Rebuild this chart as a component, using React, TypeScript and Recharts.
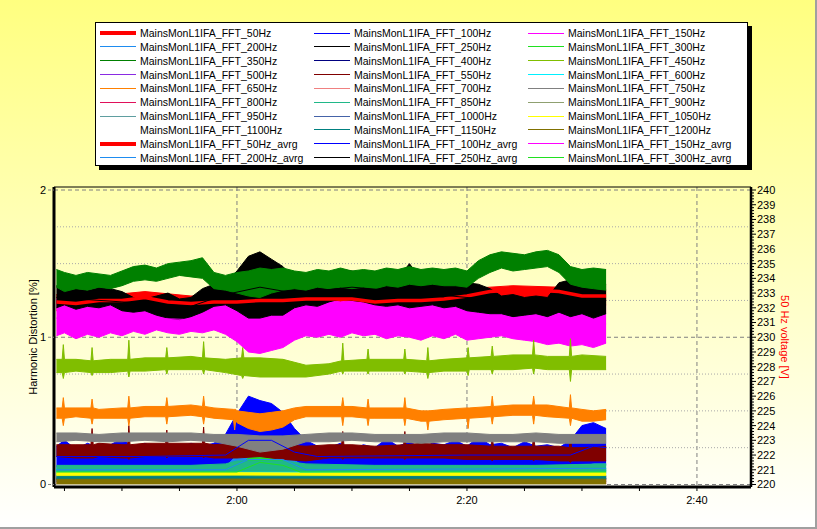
import React from "react";
import { ComposedChart, Area, Line, XAxis, YAxis, CartesianGrid } from "recharts";

// [minutes since 0:00, low, high] - band of each FFT trace
type Row = [number, number, number];
type Pt = [number, number];

// 50 Hz voltage [V] (right axis)
const fft50: Row[] = [
  [104.3, 231.8, 232.9], [108, 231.9, 232.8], [112, 232.0, 233.1], [116, 231.8, 232.8],
  [120, 231.9, 232.9], [124, 232.0, 233.0], [128, 232.1, 233.0], [132, 231.9, 232.9],
  [136, 232.0, 233.0], [140, 232.3, 233.3], [144, 232.6, 233.5], [148, 232.5, 233.4], [152.1, 232.2, 233.2],
];

const fft100: Row[] = [
  [104.3, 0.12, 0.26], [105, 0.13, 0.3], [106, 0.12, 0.24], [107, 0.12, 0.28], [108, 0.13, 0.25],
  [109, 0.12, 0.27], [110, 0.12, 0.31], [111, 0.12, 0.25], [112, 0.13, 0.28], [113, 0.12, 0.24],
  [114, 0.13, 0.27], [115, 0.12, 0.25], [116, 0.12, 0.28], [117, 0.13, 0.26], [118, 0.12, 0.28],
  [119, 0.13, 0.34], [120, 0.14, 0.48], [121, 0.15, 0.6], [122, 0.16, 0.57], [123, 0.15, 0.55],
  [124, 0.14, 0.49], [125, 0.13, 0.38], [126, 0.12, 0.3], [127, 0.12, 0.26], [128, 0.13, 0.25],
  [129, 0.12, 0.28], [130, 0.12, 0.24], [131, 0.13, 0.27], [132, 0.12, 0.25], [133, 0.13, 0.31],
  [134, 0.12, 0.26], [135, 0.12, 0.29], [136, 0.13, 0.25], [137, 0.12, 0.28], [138, 0.12, 0.27],
  [139, 0.13, 0.3], [140, 0.12, 0.26], [141, 0.12, 0.32], [142, 0.13, 0.27], [143, 0.12, 0.28],
  [144, 0.12, 0.25], [145, 0.13, 0.29], [146, 0.12, 0.26], [147, 0.12, 0.27], [148, 0.13, 0.25],
  [149, 0.13, 0.3], [150, 0.14, 0.4], [151, 0.14, 0.42], [152.1, 0.13, 0.38],
];

const fft150: Row[] = [
  [104.3, 1.01, 1.26], [105, 1.03, 1.24], [106, 0.99, 1.25], [107, 1.02, 1.23], [108, 1.0, 1.26],
  [109, 1.03, 1.24], [110, 1.01, 1.22], [111, 1.04, 1.23], [112, 1.02, 1.25], [113, 1.05, 1.22],
  [114, 1.03, 1.24], [115, 1.02, 1.21], [116, 1.04, 1.23], [117, 1.03, 1.24], [118, 1.05, 1.23],
  [119, 1.02, 1.24], [120, 0.97, 1.24], [121, 0.9, 1.23], [122, 0.89, 1.22], [123, 0.91, 1.24],
  [124, 0.93, 1.23], [125, 0.98, 1.25], [126, 1.01, 1.24], [127, 1.0, 1.26], [128, 1.02, 1.25],
  [129, 1.0, 1.24], [130, 1.03, 1.25], [131, 1.01, 1.26], [132, 1.02, 1.27], [133, 0.99, 1.26],
  [134, 1.01, 1.25], [135, 1.0, 1.27], [136, 0.98, 1.25], [137, 1.01, 1.24], [138, 0.99, 1.26],
  [139, 1.02, 1.25], [140, 0.98, 1.24], [141, 0.99, 1.23], [142, 1.0, 1.25], [143, 1.01, 1.22],
  [144, 0.99, 1.24], [145, 0.98, 1.23], [146, 0.97, 1.24], [147, 0.95, 1.25], [148, 0.96, 1.23],
  [149, 0.94, 1.24], [150, 0.95, 1.22], [151, 0.93, 1.23], [152.1, 0.96, 1.22],
];

const fft200: Row[] = [
  [104.3, 0.08, 0.12], [119, 0.08, 0.12], [120, 0.12, 0.2], [122, 0.13, 0.23], [124, 0.13, 0.21],
  [125.5, 0.09, 0.14], [127, 0.08, 0.12], [150, 0.08, 0.12], [151, 0.09, 0.14], [152.1, 0.09, 0.14],
];

const fft250: Row[] = [
  [104.3, 1.2, 1.35], [105, 1.22, 1.34], [106, 1.19, 1.33], [107, 1.21, 1.32], [108, 1.2, 1.34],
  [109, 1.22, 1.33], [110, 1.18, 1.31], [111, 1.17, 1.27], [112, 1.18, 1.26], [113, 1.15, 1.28],
  [114, 1.13, 1.3], [115, 1.12, 1.26], [116, 1.14, 1.27], [117, 1.17, 1.33], [118, 1.21, 1.36],
  [119, 1.22, 1.37], [120, 1.18, 1.45], [121, 1.13, 1.55], [122, 1.13, 1.58], [123, 1.15, 1.53],
  [124, 1.15, 1.48], [125, 1.2, 1.4], [126, 1.22, 1.4], [127, 1.21, 1.42], [128, 1.24, 1.44],
  [129, 1.26, 1.46], [130, 1.25, 1.45], [131, 1.24, 1.43], [132, 1.22, 1.4], [133, 1.21, 1.39],
  [134, 1.22, 1.4], [135, 1.2, 1.5], [136, 1.21, 1.39], [137, 1.22, 1.4], [138, 1.2, 1.38],
  [139, 1.21, 1.39], [140, 1.18, 1.37], [141, 1.17, 1.36], [142, 1.16, 1.33], [143, 1.16, 1.28],
  [144, 1.14, 1.29], [145, 1.15, 1.27], [146, 1.16, 1.28], [147, 1.14, 1.27], [148, 1.17, 1.37],
  [149, 1.14, 1.39], [150, 1.16, 1.4], [151, 1.13, 1.38], [152.1, 1.16, 1.36],
];

const fft300: Row[] = [
  [104.3, 0.07, 0.1], [120, 0.07, 0.1], [121, 0.12, 0.18], [123, 0.12, 0.19], [124, 0.11, 0.16],
  [125, 0.07, 0.1], [152.1, 0.07, 0.1],
];

const fft350: Row[] = [
  [104.3, 1.34, 1.46], [105, 1.31, 1.44], [106, 1.33, 1.42], [107, 1.32, 1.44], [108, 1.34, 1.43],
  [109, 1.33, 1.42], [110, 1.35, 1.45], [111, 1.38, 1.48], [112, 1.39, 1.49], [113, 1.38, 1.47],
  [114, 1.4, 1.5], [115, 1.42, 1.51], [116, 1.41, 1.52], [117, 1.4, 1.54], [118, 1.33, 1.44],
  [119, 1.32, 1.42], [120, 1.3, 1.44], [121, 1.28, 1.45], [122, 1.27, 1.47], [123, 1.3, 1.46],
  [124, 1.32, 1.47], [125, 1.33, 1.45], [126, 1.32, 1.44], [127, 1.34, 1.46], [128, 1.33, 1.45],
  [129, 1.34, 1.47], [130, 1.33, 1.45], [131, 1.34, 1.46], [132, 1.33, 1.45], [133, 1.35, 1.47],
  [134, 1.34, 1.46], [135, 1.36, 1.48], [136, 1.35, 1.46], [137, 1.36, 1.47], [138, 1.35, 1.46],
  [139, 1.35, 1.47], [140, 1.34, 1.45], [141, 1.4, 1.52], [142, 1.44, 1.56], [143, 1.47, 1.58],
  [144, 1.45, 1.57], [145, 1.46, 1.56], [146, 1.47, 1.58], [147, 1.48, 1.59], [148, 1.44, 1.56],
  [149, 1.36, 1.48], [150, 1.34, 1.46], [151, 1.33, 1.47], [152.1, 1.32, 1.46],
];

const fft400: Row[] = [[104.3, 0.04, 0.06], [152.1, 0.04, 0.06]];

const fft450: Row[] = [
  [104.3, 0.76, 0.85], [104.8, 0.76, 0.85], [104.9, 0.72, 0.95], [105, 0.76, 0.85], [106, 0.77, 0.85],
  [107.3, 0.76, 0.84], [107.4, 0.74, 0.93], [107.5, 0.76, 0.84], [109, 0.76, 0.85], [110.5, 0.77, 0.85],
  [110.6, 0.73, 0.98], [110.7, 0.77, 0.85], [112, 0.77, 0.86], [113.8, 0.78, 0.86], [113.9, 0.75, 0.93],
  [114, 0.78, 0.86], [116, 0.78, 0.87], [117, 0.78, 0.86], [117.1, 0.75, 0.97], [117.2, 0.78, 0.86],
  [119, 0.76, 0.85], [120.4, 0.74, 0.86], [120.5, 0.72, 0.93], [120.6, 0.74, 0.86], [122, 0.73, 0.86],
  [124, 0.73, 0.85], [126, 0.73, 0.81], [128, 0.75, 0.82], [129.1, 0.77, 0.84], [129.2, 0.75, 0.96],
  [129.3, 0.77, 0.84], [131.3, 0.77, 0.85], [131.4, 0.75, 0.92], [131.5, 0.77, 0.85], [134.5, 0.77, 0.85],
  [134.6, 0.75, 0.92], [134.7, 0.77, 0.85], [136.5, 0.76, 0.84], [136.6, 0.72, 0.93], [136.7, 0.76, 0.84],
  [138, 0.77, 0.85], [140, 0.77, 0.86], [140.1, 0.74, 0.93], [140.2, 0.78, 0.86], [142.1, 0.78, 0.87],
  [142.2, 0.75, 0.94], [142.3, 0.78, 0.87], [144, 0.78, 0.88], [145.7, 0.79, 0.88], [145.8, 0.75, 0.98],
  [145.9, 0.79, 0.88], [147, 0.78, 0.87], [148.9, 0.78, 0.87], [149, 0.7, 0.99], [149.1, 0.78, 0.87],
  [150, 0.78, 0.88], [152.1, 0.78, 0.87],
];

const fft500: Row[] = [[104.3, 0.03, 0.05], [152.1, 0.03, 0.05]];

const fft550: Row[] = [
  [104.3, 0.19, 0.27], [106, 0.18, 0.27], [107.3, 0.18, 0.27], [107.4, 0.18, 0.38], [107.5, 0.18, 0.27],
  [108, 0.19, 0.28], [110, 0.18, 0.27], [110.5, 0.18, 0.27], [110.6, 0.17, 0.4], [110.7, 0.18, 0.27],
  [112, 0.19, 0.28], [113.8, 0.19, 0.28], [113.9, 0.18, 0.37], [114, 0.19, 0.28], [116, 0.19, 0.28],
  [117, 0.19, 0.28], [117.1, 0.18, 0.39], [117.2, 0.19, 0.28], [118, 0.18, 0.27], [120, 0.18, 0.28],
  [122, 0.19, 0.29], [124, 0.17, 0.27], [126, 0.16, 0.26], [128, 0.18, 0.27], [129.1, 0.18, 0.27],
  [129.2, 0.17, 0.36], [129.3, 0.18, 0.27], [130, 0.18, 0.27], [132, 0.18, 0.26], [134.5, 0.18, 0.27],
  [134.6, 0.17, 0.36], [134.7, 0.18, 0.27], [136, 0.18, 0.28], [138, 0.18, 0.27], [140, 0.17, 0.27],
  [142.1, 0.17, 0.26], [142.2, 0.16, 0.33], [142.3, 0.17, 0.26], [144, 0.17, 0.26], [145.7, 0.17, 0.26],
  [145.8, 0.16, 0.34], [145.9, 0.17, 0.26], [148, 0.16, 0.26], [148.9, 0.16, 0.25], [149, 0.15, 0.33],
  [149.1, 0.16, 0.25], [150, 0.16, 0.25], [152.1, 0.16, 0.26],
];

const fft600: Row[] = [[104.3, 0.08, 0.11], [120, 0.08, 0.12], [125, 0.08, 0.11], [152.1, 0.08, 0.11]];

const fft650: Row[] = [
  [104.3, 0.45, 0.52], [104.8, 0.45, 0.52], [104.9, 0.4, 0.59], [105, 0.45, 0.52], [106, 0.46, 0.52],
  [107.3, 0.45, 0.52], [107.4, 0.41, 0.58], [107.5, 0.45, 0.52], [108, 0.45, 0.51], [110, 0.45, 0.52],
  [110.5, 0.45, 0.52], [110.6, 0.4, 0.6], [110.7, 0.45, 0.52], [112, 0.46, 0.53], [113.8, 0.46, 0.53],
  [113.9, 0.41, 0.59], [114, 0.46, 0.53], [116, 0.47, 0.54], [117, 0.46, 0.53], [117.1, 0.41, 0.6],
  [117.2, 0.46, 0.53], [118, 0.45, 0.52], [119.7, 0.44, 0.51], [119.8, 0.37, 0.51], [119.9, 0.44, 0.51],
  [120, 0.42, 0.5], [121, 0.38, 0.49], [122, 0.36, 0.48], [123, 0.37, 0.49], [124, 0.39, 0.5],
  [125, 0.44, 0.52], [126, 0.46, 0.53], [128, 0.46, 0.53], [129.1, 0.46, 0.53], [129.2, 0.4, 0.59],
  [129.3, 0.46, 0.53], [130, 0.46, 0.53], [131.3, 0.45, 0.52], [131.4, 0.4, 0.58], [131.5, 0.45, 0.52],
  [132, 0.45, 0.52], [134, 0.45, 0.52], [134.5, 0.45, 0.52], [134.6, 0.4, 0.59], [134.7, 0.45, 0.52],
  [136, 0.43, 0.5], [136.5, 0.43, 0.5], [136.6, 0.37, 0.5], [136.7, 0.43, 0.5], [138, 0.44, 0.51],
  [140, 0.45, 0.52], [140.1, 0.38, 0.52], [140.2, 0.45, 0.52], [142.1, 0.46, 0.53], [142.2, 0.41, 0.6],
  [142.3, 0.46, 0.53], [144, 0.47, 0.54], [145.7, 0.47, 0.54], [145.8, 0.41, 0.6], [145.9, 0.47, 0.54],
  [147, 0.46, 0.54], [148.9, 0.45, 0.52], [149, 0.4, 0.61], [149.1, 0.45, 0.52], [150, 0.43, 0.51],
  [151, 0.43, 0.5], [152.1, 0.44, 0.51],
];

const fft700: Row[] = [[104.3, 0.01, 0.03], [152.1, 0.01, 0.03]];

const fft750: Row[] = [
  [104.3, 0.29, 0.35], [106, 0.3, 0.35], [108, 0.29, 0.34], [110, 0.29, 0.35], [112, 0.3, 0.35],
  [114, 0.29, 0.35], [116, 0.3, 0.35], [118, 0.29, 0.34], [120, 0.26, 0.34], [122, 0.22, 0.33],
  [124, 0.24, 0.33], [126, 0.29, 0.34], [128, 0.29, 0.35], [130, 0.3, 0.35], [132, 0.29, 0.34],
  [134, 0.29, 0.34], [136, 0.28, 0.34], [138, 0.29, 0.35], [140, 0.29, 0.35], [142, 0.29, 0.34],
  [144, 0.29, 0.34], [146, 0.29, 0.35], [148, 0.28, 0.34], [150, 0.28, 0.34], [152.1, 0.28, 0.34],
];

const fft800: Row[] = [[104.3, 0.005, 0.02], [152.1, 0.005, 0.02]];

const fft850: Row[] = [
  [104.3, 0.09, 0.13], [110, 0.09, 0.13], [116, 0.09, 0.13], [119, 0.09, 0.14], [120, 0.09, 0.16],
  [124, 0.09, 0.16], [126, 0.09, 0.14], [132, 0.09, 0.13], [140, 0.09, 0.13], [146, 0.09, 0.13],
  [152.1, 0.09, 0.14],
];

const fft900: Row[] = [[104.3, 0.02, 0.04], [152.1, 0.02, 0.04]];
const fft950: Row[] = [[104.3, 0.04, 0.06], [152.1, 0.04, 0.06]];
const fft1000: Row[] = [[104.3, 0.02, 0.04], [152.1, 0.02, 0.04]];

const fft1050: Row[] = [
  [104.3, 0.055, 0.08], [112, 0.055, 0.082], [120, 0.056, 0.08], [126, 0.055, 0.078],
  [135, 0.055, 0.08], [144, 0.055, 0.08], [152.1, 0.055, 0.08],
];

const fft1100: Row[] = [[104.3, 0, 0.01], [152.1, 0, 0.01]];

const fft1150: Row[] = [[104.3, 0.035, 0.055], [120, 0.035, 0.057], [130, 0.033, 0.055], [152.1, 0.035, 0.055]];

const fft1200: Row[] = [[104.3, 0.004, 0.035], [120, 0.004, 0.037], [135, 0.004, 0.035], [152.1, 0.004, 0.036]];

// averaged traces [minutes, value]
const avg50: Pt[] = [
  [104.3, 232.4], [106, 232.3], [108, 232.5], [110, 232.5], [112, 232.7], [114, 232.4], [116, 232.3],
  [118, 232.4], [120, 232.4], [122, 232.5], [124, 232.5], [126, 232.6], [128, 232.6], [130, 232.6],
  [132, 232.4], [134, 232.5], [136, 232.5], [138, 232.6], [140, 232.8], [142, 233.1], [144, 233.2],
  [146, 233.2], [148, 233.1], [150, 232.8], [152.1, 232.8],
];
const avg100: Pt[] = [
  [104.3, 0.19], [112, 0.19], [119, 0.2], [121, 0.3], [123, 0.3], [125, 0.22], [127, 0.19],
  [140, 0.2], [149, 0.2], [151, 0.26], [152.1, 0.25],
];
const avg150: Pt[] = [
  [104.3, 1.13], [112, 1.13], [120, 1.11], [122, 1.06], [124, 1.08], [126, 1.12], [136, 1.13],
  [146, 1.1], [152.1, 1.09],
];
const avg200: Pt[] = [[104.3, 0.1], [119, 0.1], [121, 0.17], [124, 0.17], [126, 0.1], [152.1, 0.11]];
const avg250: Pt[] = [
  [104.3, 1.27], [110, 1.24], [116, 1.21], [119, 1.29], [122, 1.34], [125, 1.3], [130, 1.34],
  [136, 1.3], [140, 1.27], [146, 1.22], [152.1, 1.26],
];
const avg300: Pt[] = [[104.3, 0.085], [120, 0.085], [122, 0.15], [124, 0.13], [125.5, 0.085], [152.1, 0.085]];

const xTicks = [105, 110, 115, 120, 125, 130, 135, 140, 145, 150, 155, 160];
const leftTicks = [0, 1, 2];
const rightTicks = [220, 221, 222, 223, 224, 225, 226, 227, 228, 229, 230, 231, 232, 233, 234, 235, 236, 237, 238, 239, 240];

const P = "MainsMonL1IFA_FFT_";

const BANDS = [
  { name: P + "50Hz", color: "#FF0000", rows: fft50, axis: "right" },
  { name: P + "100Hz", color: "#0000FF", rows: fft100, axis: "left" },
  { name: P + "150Hz", color: "#FF00FF", rows: fft150, axis: "left" },
  { name: P + "200Hz", color: "#1E8CF0", rows: fft200, axis: "left" },
  { name: P + "250Hz", color: "#000000", rows: fft250, axis: "left" },
  { name: P + "300Hz", color: "#20E020", rows: fft300, axis: "left" },
  { name: P + "350Hz", color: "#008000", rows: fft350, axis: "left" },
  { name: P + "400Hz", color: "#000080", rows: fft400, axis: "left" },
  { name: P + "450Hz", color: "#80BE00", rows: fft450, axis: "left" },
  { name: P + "500Hz", color: "#8A2BE2", rows: fft500, axis: "left" },
  { name: P + "550Hz", color: "#800000", rows: fft550, axis: "left" },
  { name: P + "600Hz", color: "#00F0FF", rows: fft600, axis: "left" },
  { name: P + "650Hz", color: "#FF8000", rows: fft650, axis: "left" },
  { name: P + "700Hz", color: "#F08080", rows: fft700, axis: "left" },
  { name: P + "750Hz", color: "#808080", rows: fft750, axis: "left" },
  { name: P + "800Hz", color: "#E0105A", rows: fft800, axis: "left" },
  { name: P + "850Hz", color: "#20B888", rows: fft850, axis: "left" },
  { name: P + "900Hz", color: "#8FA070", rows: fft900, axis: "left" },
  { name: P + "950Hz", color: "#5F9EA0", rows: fft950, axis: "left" },
  { name: P + "1000Hz", color: "#4563A8", rows: fft1000, axis: "left" },
  { name: P + "1050Hz", color: "#FFFF00", rows: fft1050, axis: "left" },
  { name: P + "1100Hz", color: "#FFFFFF", rows: fft1100, axis: "left" },
  { name: P + "1150Hz", color: "#008080", rows: fft1150, axis: "left" },
  { name: P + "1200Hz", color: "#807000", rows: fft1200, axis: "left" },
];

const AVGS = [
  { name: P + "50Hz_avrg", color: "#FF0000", pts: avg50, axis: "right", width: 3.5 },
  { name: P + "100Hz_avrg", color: "#0000FF", pts: avg100, axis: "left", width: 1 },
  { name: P + "150Hz_avrg", color: "#FF00FF", pts: avg150, axis: "left", width: 1 },
  { name: P + "200Hz_avrg", color: "#1E8CF0", pts: avg200, axis: "left", width: 1 },
  { name: P + "250Hz_avrg", color: "#000000", pts: avg250, axis: "left", width: 1 },
  { name: P + "300Hz_avrg", color: "#20E020", pts: avg300, axis: "left", width: 1 },
];

// layout
const W = 817;
const H = 529;
const PLOT_T = 187;
const PLOT_B = 487;
const LEFT_DOMAIN: [number, number] = [-0.017, 2.0204];
const RIGHT_DOMAIN: [number, number] = [219.83, 240.204];
const X_DOMAIN: [number, number] = [104.09, 164.7];
const PX_PER_V = (PLOT_B - PLOT_T) / (RIGHT_DOMAIN[1] - RIGHT_DOMAIN[0]);
const FONT = "'Liberation Sans', Arial, sans-serif";

const fmtTime = (v: number) => {
  const m = Math.round(v);
  if (m % 20 !== 0) return "";
  return `${Math.floor(m / 60)}:${String(m % 60).padStart(2, "0")}`;
};

const scaleOf = (axis: any) => {
  const s = axis && axis.scale;
  if (typeof s === "function") return (v: number) => s(v);
  if (s && typeof s.map === "function") return (v: number) => s.map(v);
  return null;
};

function RightTick(props: any) {
  const { x, y, payload } = props;
  const v = payload.value;
  const ax = x - 6;
  const minors = v > 220 ? [1, 2, 3, 4] : [];
  return (
    <g>
      {minors.map((k) => (
        <line key={k} x1={ax} x2={ax + 3} y1={y + k * PX_PER_V * 0.2} y2={y + k * PX_PER_V * 0.2} stroke="#000" />
      ))}
      <text x={x} y={y} dy="0.36em" textAnchor="start" fontSize={11} fontFamily={FONT} fill="#000">
        {v}
      </text>
    </g>
  );
}

function LegendBox() {
  const items = [...BANDS.map((b) => ({ name: b.name, color: b.color })), ...AVGS.map((a) => ({ name: a.name, color: a.color }))];
  return (
    <div
      style={{
        position: "absolute",
        left: 95,
        top: 22,
        width: 651,
        height: 142,
        background: "#fff",
        border: "1px solid #000",
        boxShadow: "4px 4px 0 #000",
        fontFamily: FONT,
        fontSize: 10.5,
        color: "#000",
      }}
    >
      {items.map((it, i) => {
        const row = Math.floor(i / 3);
        const col = i % 3;
        const thick = it.name === P + "50Hz" || it.name === P + "50Hz_avrg";
        const top = 10 + row * 13.85;
        return (
          <div key={it.name}>
            <div
              style={{
                position: "absolute",
                left: 4 + col * 214,
                top: top - (thick ? 2 : 0.5),
                width: 36,
                height: thick ? 4 : 1,
                background: it.color,
              }}
            />
            <div style={{ position: "absolute", left: 44 + col * 214, top: top - 7, lineHeight: "14px", whiteSpace: "nowrap" }}>
              {it.name}
            </div>
          </div>
        );
      })}
    </div>
  );
}

export default function App() {
  return (
    <div
      style={{
        position: "absolute",
        left: 0,
        top: 0,
        width: W,
        height: H,
        background: "linear-gradient(to bottom, #FFFF80 0%, #FFFFFF 100%)",
        overflow: "hidden",
      }}
    >
      <ComposedChart width={W} height={H} margin={{ top: PLOT_T, right: 16, bottom: 12, left: 14 }}>
        <CartesianGrid
          xAxisId="x"
          yAxisId="left"
          stroke="#808080"
          strokeDasharray="4 3"
          horizontalCoordinatesGenerator={(p: any) => {
            const s = scaleOf(p.yAxis);
            return s ? leftTicks.map((v) => s(v)) : [];
          }}
          verticalCoordinatesGenerator={(p: any) => {
            const s = scaleOf(p.xAxis);
            return s ? [120, 140, 160].map((v) => s(v)) : [];
          }}
        />
        <CartesianGrid
          xAxisId="x"
          yAxisId="left"
          stroke="#a8a8a8"
          strokeDasharray="1 2"
          vertical={false}
          horizontalCoordinatesGenerator={(p: any) => {
            const s = scaleOf(p.yAxis);
            return s ? [0.25, 0.5, 0.75, 1.25, 1.5, 1.75].map((v) => s(v)) : [];
          }}
        />
        <CartesianGrid
          xAxisId="x"
          yAxisId="left"
          stroke="#000"
          strokeWidth={1.2}
          vertical={false}
          horizontalCoordinatesGenerator={(p: any) => [p.offset ? p.offset.top : PLOT_T]}
        />
        <XAxis
          xAxisId="x"
          dataKey="t"
          type="number"
          domain={X_DOMAIN}
          allowDataOverflow
          ticks={xTicks}
          interval={0}
          tickFormatter={fmtTime}
          height={30}
          tickSize={4}
          tickMargin={5}
          axisLine={{ stroke: "#000", strokeWidth: 3 }}
          tickLine={{ stroke: "#000" }}
          tick={{ fontSize: 11, fontFamily: FONT, fill: "#000" }}
        />
        <YAxis
          yAxisId="left"
          orientation="left"
          type="number"
          domain={LEFT_DOMAIN}
          allowDataOverflow
          ticks={leftTicks}
          interval={0}
          width={40}
          tickSize={6}
          tickMargin={2}
          axisLine={{ stroke: "#000", strokeWidth: 3 }}
          tickLine={{ stroke: "#808080", strokeDasharray: "3 2" }}
          tick={{ fontSize: 11, fontFamily: FONT, fill: "#000" }}
        />
        <YAxis
          yAxisId="right"
          orientation="right"
          type="number"
          domain={RIGHT_DOMAIN}
          allowDataOverflow
          ticks={rightTicks}
          interval={0}
          width={50}
          tickSize={5}
          tickMargin={1}
          axisLine={{ stroke: "#000", strokeWidth: 2.5 }}
          tickLine={{ stroke: "#000" }}
          tick={<RightTick />}
        />
        {BANDS.map((b) => (
          <Area
            key={b.name}
            name={b.name}
            data={b.rows.map(([t, lo, hi]) => ({ t, r: [lo, hi] }))}
            dataKey="r"
            xAxisId="x"
            yAxisId={b.axis}
            type="linear"
            stroke={b.color}
            strokeWidth={1}
            fill={b.color}
            fillOpacity={1}
            dot={false}
            activeDot={false}
            isAnimationActive={false}
          />
        ))}
        {AVGS.map((a) => (
          <Line
            key={a.name}
            name={a.name}
            data={a.pts.map(([t, v]) => ({ t, v }))}
            dataKey="v"
            xAxisId="x"
            yAxisId={a.axis}
            type="linear"
            stroke={a.color}
            strokeWidth={a.width}
            dot={false}
            activeDot={false}
            isAnimationActive={false}
          />
        ))}
      </ComposedChart>
      <div
        style={{
          position: "absolute",
          left: 33,
          top: 337,
          transform: "translate(-50%, -50%) rotate(-90deg)",
          whiteSpace: "nowrap",
          fontFamily: FONT,
          fontSize: 11,
          color: "#000",
        }}
      >
        Harmonic Distortion [%]
      </div>
      <div
        style={{
          position: "absolute",
          left: 785,
          top: 337,
          transform: "translate(-50%, -50%) rotate(90deg)",
          whiteSpace: "nowrap",
          fontFamily: FONT,
          fontSize: 11,
          color: "#FF0000",
        }}
      >
        50 Hz voltage [V]
      </div>
      <LegendBox />
      <div
        style={{
          position: "absolute",
          inset: 0,
          boxSizing: "border-box",
          borderRight: "2px solid #A0A0A0",
          borderBottom: "2px solid #A0A0A0",
          pointerEvents: "none",
        }}
      />
    </div>
  );
}
